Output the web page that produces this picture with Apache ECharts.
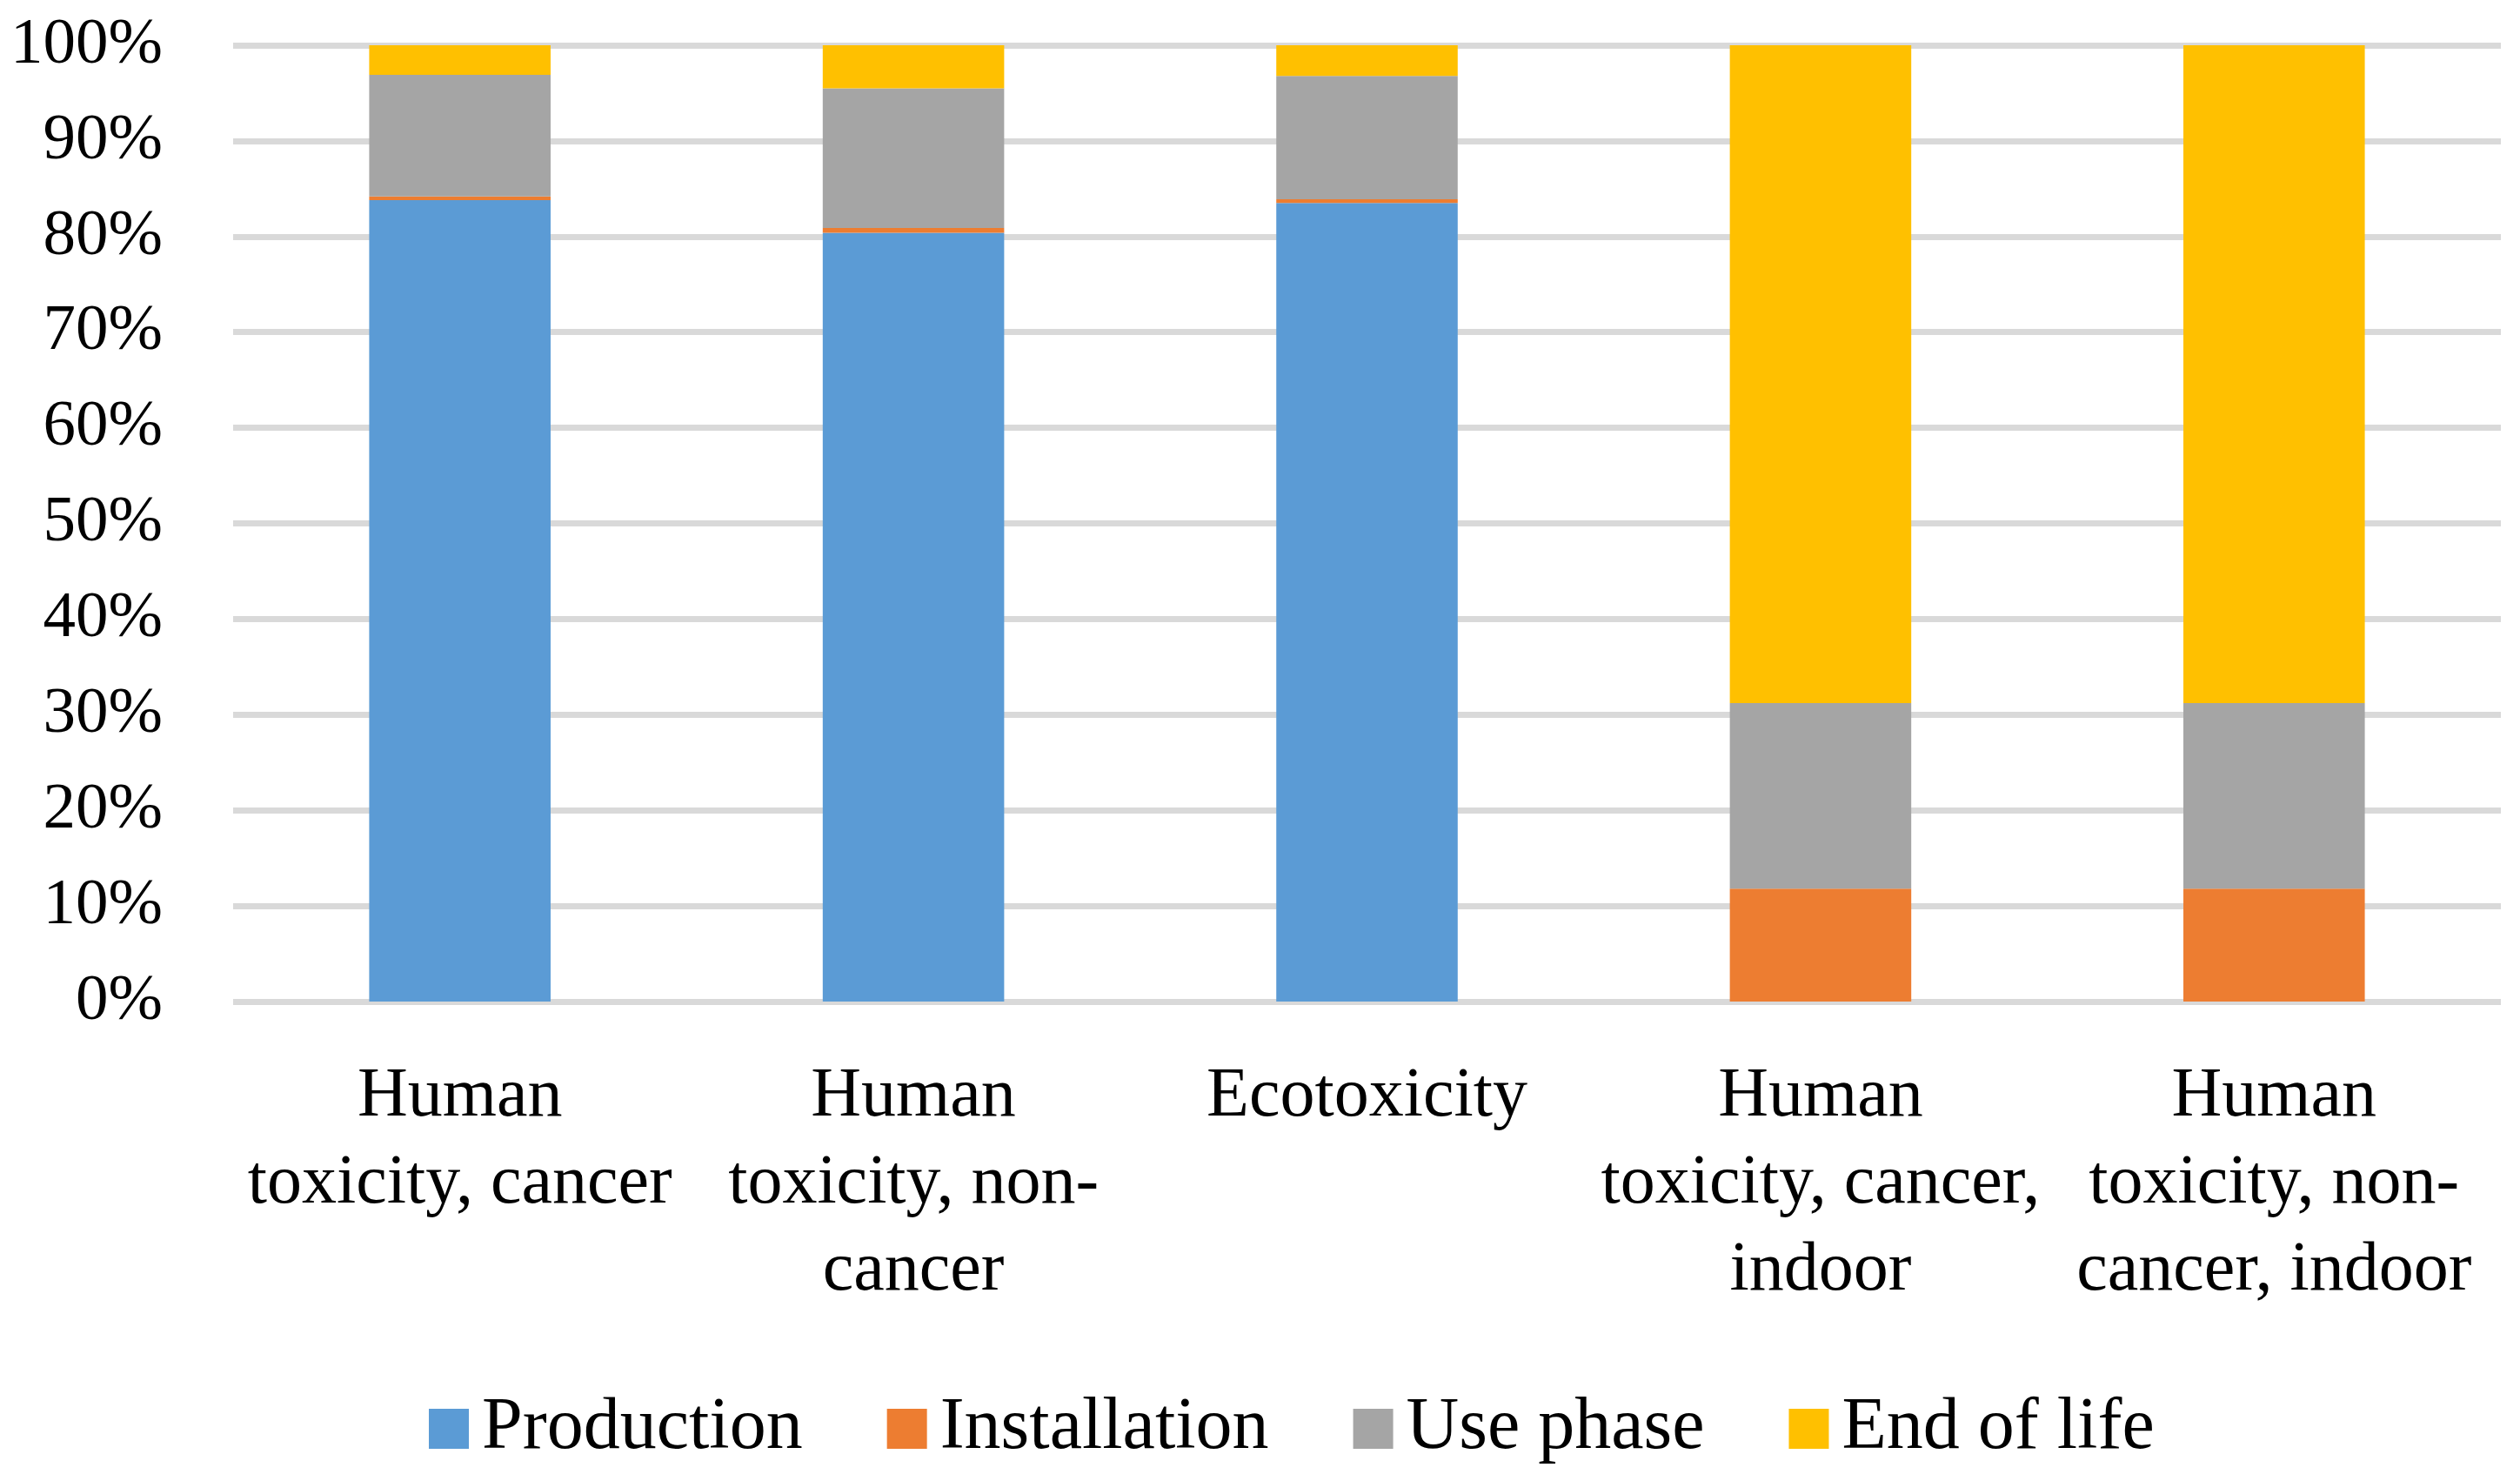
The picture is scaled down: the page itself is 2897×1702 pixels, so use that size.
<!DOCTYPE html>
<html>
<head>
<meta charset="utf-8">
<script src="https://cdn.jsdelivr.net/npm/echarts@6/dist/echarts.min.js"></script>
<style>
html,body{margin:0;padding:0;background:#fff;}
#chart{width:2897px;height:1702px;}
</style>
</head>
<body>
<div id="chart"></div>
<script>
const categories = [
  "Human\ntoxicity, cancer",
  "Human\ntoxicity, non-\ncancer",
  "Ecotoxicity",
  "Human\ntoxicity, cancer,\nindoor",
  "Human\ntoxicity, non-\ncancer, indoor"
];
const seriesNames = ["Production", "Installation", "Use phase", "End of life"];
const production   = [83.8, 80.4, 83.5, 0, 0];
const installation = [0.4, 0.5, 0.4, 11.8, 11.8];
const usePhase     = [12.7, 14.6, 12.9, 19.4, 19.4];
const endOfLife    = [3.1, 4.5, 3.2, 68.8, 68.8];
const yTicks = [0, 10, 20, 30, 40, 50, 60, 70, 80, 90, 100];

const colors = ["#5B9BD5", "#ED7D31", "#A5A5A5", "#FFC000"];
const font = "'Liberation Serif', 'DejaVu Serif', serif";
const values = [production, installation, usePhase, endOfLife];

const chart = echarts.init(document.getElementById('chart'));
chart.setOption({
  backgroundColor: '#ffffff',
  animation: false,
  color: colors,
  grid: { left: 268, right: 22, top: 52, bottom: 551, containLabel: false },
  legend: {
    data: seriesNames,
    left: 488,
    top: 1595,
    icon: 'rect',
    itemWidth: 46,
    itemHeight: 46,
    itemGap: 97,
    textStyle: { fontFamily: font, fontSize: 84, lineHeight: 84, color: '#000', padding: [0, 0, 0, 10] }
  },
  xAxis: {
    type: 'category',
    data: categories,
    axisLine: { show: false },
    axisTick: { show: false },
    axisLabel: {
      interval: 0,
      margin: 60,
      fontFamily: font,
      fontSize: 80,
      lineHeight: 100,
      color: '#000',
      align: 'center'
    }
  },
  yAxis: {
    type: 'value',
    min: yTicks[0],
    max: yTicks[yTicks.length - 1],
    interval: 10,
    axisLine: { show: false },
    axisTick: { show: false },
    splitLine: { show: true, lineStyle: { color: '#d9d9d9', width: 7 } },
    axisLabel: {
      margin: 81,
      fontFamily: font,
      fontSize: 75,
      color: '#000',
      formatter: v => v + '%'
    }
  },
  series: seriesNames.map((name, i) => ({
    name: name,
    type: 'bar',
    stack: 'total',
    data: values[i],
    barWidth: '40%',
    itemStyle: { color: colors[i] }
  }))
});
</script>
</body>
</html>
